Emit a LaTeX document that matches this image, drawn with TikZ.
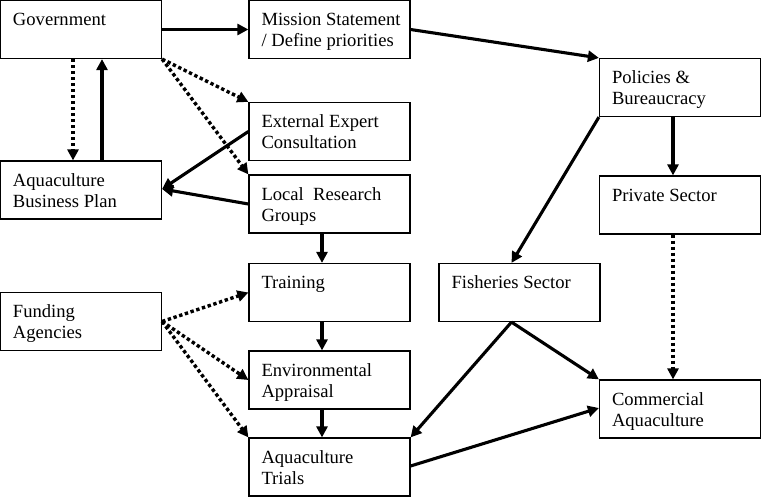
\documentclass[tikz,border=0pt]{standalone}
\usepackage{fontspec}
\setmainfont{Liberation Serif}
\usetikzlibrary{arrows.meta}
\newcommand\bxtext[1]{\hspace*{12pt}\parbox[c][58pt][t]{148pt}{\raggedright\vspace*{10.5pt}\strut #1}}
\tikzset{
  diabox/.style={draw, line width=1.2pt, inner sep=0pt,
    minimum width=161pt, minimum height=58pt, font=\fontsize{18.6}{21}\selectfont},
  solidarr/.style={line width=3.1pt, -{Triangle[length=11pt,width=11pt]}},
  dotarr/.style={line width=3.4pt, dash pattern=on 3.4pt off 2.6pt, -{Triangle[length=11pt,width=11pt]}}
}
\begin{document}
\begin{tikzpicture}[x=1pt,y=-1pt]
\useasboundingbox (0,0) rectangle (761,497);
\node[diabox] (gov) at (81,29.5) {\bxtext{Government}};
\node[diabox] (mis) at (329.5,29.5) {\bxtext{Mission Statement\\/ Define priorities}};
\node[diabox] (ext) at (329.5,131.5) {\bxtext{External Expert\\Consultation}};
\node[diabox] (loc) at (329.5,204) {\bxtext{Local\ \ Research\\Groups}};
\node[diabox] (bus) at (81,190) {\bxtext{Aquaculture\\Business Plan}};
\node[diabox] (tra) at (329.5,292.5) {\bxtext{Training}};
\node[diabox] (fun) at (81,321.5) {\bxtext{Funding\\Agencies}};
\node[diabox] (env) at (329.5,380) {\bxtext{Environmental\\Appraisal}};
\node[diabox] (tri) at (329.5,467) {\bxtext{Aquaculture\\Trials}};
\node[diabox] (pol) at (680,87.5) {\bxtext{Policies \&\\Bureaucracy}};
\node[diabox] (pri) at (680,205) {\bxtext{Private Sector}};
\node[diabox] (fis) at (519.5,292.5) {\bxtext{Fisheries Sector}};
\node[diabox] (com) at (680,409) {\bxtext{Commercial\\Aquaculture}};

\draw[solidarr] (gov) -- (mis);
\draw[solidarr] (mis.east) -- (pol.north west);
\draw[dotarr] ([xshift=-8pt]gov.south) -- ([xshift=-8pt]bus.north);
\draw[solidarr] ([xshift=21pt]bus.north) -- ([xshift=21pt]gov.south);
\draw[dotarr] (gov.south east) -- (ext.north west);
\draw[dotarr] (gov.south east) -- (loc.north west);
\draw[solidarr] (ext.west) -- ([yshift=1pt]bus.east);
\draw[solidarr] (loc.west) -- ([yshift=1pt]bus.east);
\draw[solidarr] ([xshift=-7.5pt]loc.south) -- ([xshift=-7.5pt]tra.north);
\draw[solidarr] ([xshift=-7.5pt]tra.south) -- ([xshift=-7.5pt]env.north);
\draw[solidarr] ([xshift=-7.5pt]env.south) -- ([xshift=-7.5pt]tri.north);
\draw[dotarr] (fun.east) -- (tra.west);
\draw[dotarr] (fun.east) -- (env.west);
\draw[dotarr] (fun.east) -- (tri.north west);
\draw[solidarr] (pol.south west) -- ([xshift=-8pt]fis.north);
\draw[solidarr] ([xshift=-7pt]pol.south) -- ([xshift=-7pt]pri.north);
\draw[dotarr] ([xshift=-7pt]pri.south) -- ([xshift=-7pt]com.north);
\draw[solidarr] ([xshift=-8pt]fis.south) -- (com.north west);
\draw[solidarr] ([xshift=-8pt]fis.south) -- (tri.north east);
\draw[solidarr] ([yshift=1pt]tri.east) -- ([yshift=1pt]com.west);
\end{tikzpicture}
\end{document}
